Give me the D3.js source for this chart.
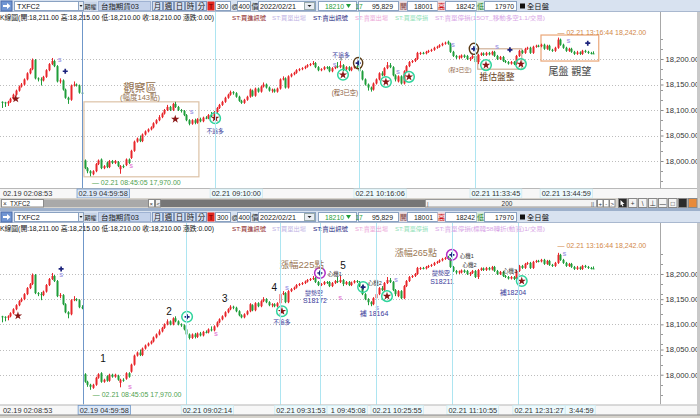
<!DOCTYPE html>
<html><head><meta charset="utf-8">
<script src="https://cdn.jsdelivr.net/npm/d3@7"></script>
<style>body{margin:0;background:#fff;}svg{display:block;}</style>
</head><body><svg id="c" width="700" height="418"></svg>
<script>
// ---------------- DATA ----------------
const opens = [
18116,18115,18113,18116,18122,18130,18138,18146,18150,18160,
18172,18180,18198,18162,18160,18158,18165,18178,18190,18196,
18186,18156,18158,18140,18124,18120,18148,18150,18148,18134,
18001,17986,17980,17974,17980,17994,18003,17986,17997,17988,
18000,17996,17998,17984,17990,17992,18003,18006,18020,18038,
18044,18039,18052,18058,18062,18066,18074,18080,18086,18093,
18100,18106,18100,18112,18106,18100,18098,18090,18080,18073,
18080,18075,18082,18078,18085,18084,18090,18088,18096,18104,
18110,18116,18124,18130,18135,18133,18126,18118,18114,18120,
18126,18138,18128,18142,18136,18146,18150,18144,18138,18140,
18136,18142,18160,18162,18144,18166,18170,18173,18178,18180,
18182,18185,18188,18190,18192,18184,18178,18180,18184,18184,
18176,18182,18186,18184,18188,18180,18184,18178,18183,18186,
18182,18176,18160,18150,18144,18140,18152,18160,18172,18168,
18182,18188,18184,18168,18156,18166,18152,18176,18186,18194,
18196,18200,18210,18212,18211,18214,18216,18218,18222,18224,
18227,18230,18234,18230,18214,18206,18203,18203,18207,18206,
18200,18202,18206,18194,18208,18211,18208,18212,18209,18214,
18206,18200,18204,18196,18194,18191,18194,18190,18206,18216,
18212,18220,18222,18212,18224,18226,18225,18228,18220,18226,
18218,18216,18222,18238,18228,18222,18216,18220,18214,18210,
18213,18210,18216,18214,18212,18211];
const highs = [
18117,18116,18118,18124,18132,18140,18148,18153,18162,18174,
18182,18201,18200,18164,18164,18167,18180,18192,18202,18198,
18188,18162,18160,18142,18126,18150,18156,18152,18150,18138,
18003,17988,17982,17982,17996,18003,18005,17992,17999,18002,
18002,18002,18000,17992,17993,18005,18005,18022,18040,18046,
18050,18054,18060,18064,18068,18076,18082,18090,18095,18102,
18110,18108,18114,18116,18108,18102,18100,18092,18082,18082,
18083,18084,18085,18087,18088,18092,18096,18098,18106,18112,
18118,18126,18132,18138,18137,18135,18128,18120,18122,18128,
18142,18140,18144,18144,18148,18154,18152,18146,18142,18142,
18144,18162,18166,18164,18168,18172,18175,18180,18182,18184,
18187,18190,18192,18196,18194,18186,18182,18186,18186,18186,
18184,18188,18194,18196,18190,18186,18186,18185,18188,18188,
18186,18178,18162,18152,18146,18154,18162,18174,18176,18184,
18194,18192,18186,18170,18168,18168,18178,18188,18196,18198,
18202,18214,18214,18214,18216,18218,18220,18224,18226,18229,
18232,18234,18236,18232,18216,18208,18207,18209,18209,18208,
18204,18208,18208,18210,18213,18213,18214,18214,18216,18216,
18208,18206,18206,18198,18196,18196,18196,18208,18218,18218,
18222,18224,18224,18226,18228,18228,18230,18230,18228,18228,
18220,18224,18242,18240,18230,18224,18222,18222,18216,18216,
18215,18218,18218,18216,18214,18215];
const lows = [
18104,18106,18108,18114,18120,18128,18136,18144,18148,18158,
18170,18178,18160,18156,18148,18156,18163,18176,18188,18184,
18154,18152,18138,18122,18112,18118,18146,18146,18132,18130,
17984,17976,17970,17972,17978,17992,17984,17984,17986,17986,
17994,17994,17988,17975,17986,17990,17994,18004,18018,18036,
18037,18037,18050,18056,18060,18064,18072,18078,18084,18091,
18098,18098,18098,18104,18098,18095,18088,18078,18070,18071,
18072,18073,18076,18076,18082,18082,18086,18086,18094,18102,
18108,18114,18122,18128,18130,18124,18116,18112,18112,18118,
18124,18126,18126,18134,18134,18144,18142,18136,18134,18134,
18134,18140,18158,18142,18142,18164,18168,18171,18176,18178,
18180,18183,18186,18188,18182,18176,18176,18178,18180,18174,
18174,18180,18182,18182,18176,18178,18176,18176,18181,18182,
18174,18158,18148,18138,18136,18138,18150,18158,18166,18166,
18180,18182,18166,18156,18154,18150,18150,18174,18184,18192,
18194,18198,18208,18209,18209,18212,18214,18216,18220,18222,
18225,18228,18228,18212,18204,18200,18200,18201,18202,18198,
18196,18200,18192,18190,18206,18206,18206,18207,18207,18204,
18198,18198,18194,18192,18189,18189,18188,18188,18204,18210,
18210,18218,18210,18210,18222,18223,18223,18218,18218,18216,
18214,18214,18220,18226,18220,18214,18214,18212,18208,18208,
18208,18208,18212,18210,18209,18210];
const closes = [
18115,18113,18116,18122,18130,18138,18146,18150,18160,18172,
18180,18198,18162,18160,18158,18165,18178,18190,18196,18186,
18156,18158,18140,18124,18120,18148,18150,18148,18134,18133,
17986,17980,17976,17980,17994,18001,17986,17990,17988,18000,
17996,18000,17990,17990,17988,18003,17996,18020,18038,18044,
18039,18052,18058,18062,18066,18074,18080,18086,18093,18100,
18106,18100,18112,18106,18100,18098,18090,18080,18073,18080,
18075,18082,18078,18085,18084,18090,18088,18096,18104,18110,
18116,18124,18130,18135,18133,18126,18118,18114,18120,18126,
18140,18128,18142,18136,18146,18150,18144,18138,18140,18136,
18142,18160,18162,18144,18166,18170,18173,18178,18180,18182,
18185,18188,18190,18192,18184,18178,18180,18184,18182,18176,
18182,18186,18184,18188,18180,18184,18178,18183,18186,18184,
18176,18160,18150,18144,18140,18152,18160,18172,18168,18182,
18188,18184,18168,18160,18166,18152,18176,18186,18194,18196,
18200,18212,18212,18211,18214,18216,18218,18222,18224,18227,
18230,18232,18230,18214,18206,18203,18205,18207,18204,18200,
18202,18206,18194,18208,18211,18208,18212,18209,18214,18206,
18200,18204,18196,18194,18191,18194,18190,18206,18216,18212,
18220,18222,18212,18224,18226,18225,18228,18220,18226,18218,
18216,18222,18238,18228,18222,18216,18220,18214,18210,18213,
18210,18216,18214,18212,18211,18210];

const priceTicks = [18000, 18050, 18100, 18150, 18200];

const topTimeLabels = ['02.19 02:08:53','02.19 04:59:58','02.21 09:10:00','02.21 10:16:06','02.21 11:33:45','02.21 13:44:59'];
const topTimeIdx    = [0, 29.1, 77.5, 129.8, 172, 197.5];
const topTimeKind   = [0, 2, 1, 1, 1, 0];
const botTimeLabels = ['02.19 02:08:53','02.19 04:59:58','02.21 09:02:14','02.21 09:31:53','02.21 09:45:08','02.21 10:25:55','02.21 11:10:55','02.21 12:31:27','02.21 13:44:59'];
const botTimeIdx    = [0, 29.5, 67, 101, 115.6, 136, 163.6, 187.6, 198.5];
const botTimeKind   = [0, 2, 1, 1, 1, 1, 1, 1, 0];

// markers: [index, price, type]
const topMarkers = [
 [5,18122,'pent'],[21,18200,'sl'],[23,18176,'dot'],[47,17991,'sp'],[63,18082,'pent'],[69,18098,'sl'],
 [77.5,18084,'cpent'],[121,18190,'sl'],[124,18169,'cpent'],[129.5,18192,'bdot'],[139.6,18155,'cpent'],
 [144,18176,'sl'],[148,18165,'cpent'],[164,18229,'sl'],[171.6,18220,'bdot'],[176,18188,'cpent'],
 [180,18224,'sl'],[184.7,18218,'dot'],[188.7,18190,'cpent'],[206,18237,'sl'],[213,18231,'dot']];
const botMarkers = [
 [5.8,18117,'pent'],[21.5,18210,'dot'],[21.5,18198,'sl'],[46.5,17977,'sp'],[67.3,18115,'cdot'],
 [77.8,18081,'sp'],[101.8,18126,'cpent'],[103.6,18174,'sl'],[115.6,18202,'mdot'],[123,18154,'sp'],
 [131.3,18174,'cdot'],[136.4,18134,'sl'],[140,18156,'cpent'],[143.3,18190,'sl'],[163.6,18238,'mdot'],
 [189,18186,'cpent'],[204.5,18240,'sl']];

// notes: [text, index, price, size, color, anchor]
const topNotes = [
 ['觀察區',50.2,18144,11,'#94714e','middle'],
 ['(幅度143點)',50.2,18125,7.5,'#94714e','middle'],
 ['不追多',77.5,18059,5.8,'#3b3b9b','middle'],
 ['不追多',123.3,18207,5.8,'#3b3b9b','middle'],
 ['(程3已空)',124.7,18134,6.3,'#8b6040','middle'],
 ['(程3已空)',166.5,18178,5.5,'#8b6040','middle'],
 ['推估盤整',180,18164,8.8,'#6a4526','middle'],
 ['尾盤 觀望',206.5,18175,10,'#444444','middle'],
 ['— 02.21 13:16:44  18,242.00',202,18251,7,'#d2884a','start'],
 ['— 02.21 08:45:05  17,970.00',32.7,17957,7,'#4f9f4f','start']];
const botNotes = [
 ['1',36.7,18033,10,'#111111','middle'],['2',60.7,18125,10,'#111111','middle'],
 ['3',81,18152,10,'#111111','middle'],['4',99,18174,10,'#111111','middle'],['5',124,18216,10,'#111111','middle'],
 ['不追多',101.8,18105,5.8,'#3b3b9b','middle'],
 ['漲幅225點',109,18218,9.5,'#9a7754','middle'],
 ['心機1',121,18200,5.5,'#333333','middle'],
 ['變勢空',113.5,18162,6,'#3b3b9b','middle'],['S18172',113.8,18148,7,'#3b3b9b','middle'],
 ['心機2',135.6,18182,5.5,'#333333','middle'],['補 18164',135.3,18121,7,'#3b3b9b','middle'],
 ['漲幅265點',150.5,18242,9,'#9a7754','middle'],['心機1',169,18236,5.5,'#333333','middle'],
 ['變勢空',159.6,18202,6,'#3b3b9b','middle'],['S18211',160,18186,7,'#3b3b9b','middle'],
 ['心機2',170,18218,5.5,'#333333','middle'],['心機3',184.7,18206,5.5,'#333333','middle'],
 ['補18204',185.8,18164,7,'#3b3b9b','middle'],
 ['— 02.21 13:16:44  18,242.00',202,18257,7,'#d2884a','start'],
 ['— 02.21 08:45:05  17,970.00',33,17960,7,'#4f9f4f','start']];

// boxes: [i0, i1, p0, p1, color]
const topBoxes = [[29.8,71.6,18116,17969,'#dcc2a6'],[173,189,18220,18180,'#cfae96'],[196,217,18247,18196,'#eaa678']];

const stLabelsTop = ['ST:買進訊號','ST:買單出場','ST:賣出訊號','ST:賣單出場','ST:買單停損','ST:賣單停損(15OT_移動多空1.1/交易)'];
const stLabelsBot = ['ST:買進訊號','ST:買單出場','ST:賣出訊號','ST:賣單出場','ST:買單停損','ST:賣單停損(標韓58轉折(動寬)1/交易)'];
const headerText = 'K線圖(開:18,211.00 高:18,215.00 低:18,210.00 收:18,210.00 漲跌:0.00)';

// ---------------- DRAW ----------------
const FONT = '"Liberation Sans","Noto Sans CJK TC",sans-serif';
const svg = d3.select('#c').attr('font-family', FONT);
svg.append('rect').attr('width',700).attr('height',418).attr('fill','#ffffff');
const RED = '#e8262b', GREEN = '#1f9e3a';
const xScale = d3.scaleLinear().domain([0, closes.length - 1]).range([2, 593.25]);

function txt(g, x, y, s, size, color, opt) {
  opt = opt || {};
  const t = g.append('text').attr('x', x).attr('y', y).text(s)
    .attr('font-size', size).attr('fill', color)
    .attr('text-anchor', opt.anchor || 'start');
  if (opt.len) t.attr('textLength', opt.len).attr('lengthAdjust', 'spacingAndGlyphs');
  if (opt.weight) t.attr('font-weight', opt.weight);
  if (opt.mid) t.attr('dominant-baseline', 'central');
  return t;
}
function measure(s, size) {
  const t = svg.append('text').attr('font-size', size).text(s);
  const w = t.node().getComputedTextLength();
  t.remove();
  return w;
}

function drawToolbar(y0) {
  const g = svg.append('g').attr('transform', `translate(0,${y0})`);
  g.append('rect').attr('width', 700).attr('height', 12).attr('fill', '#d8e2f0');
  g.append('line').attr('x1',0).attr('x2',700).attr('y1',11.5).attr('y2',11.5).attr('stroke','#a9b8cf');
  g.append('rect').attr('x',1).attr('y',1).attr('width',11).attr('height',10).attr('fill','#7095d2').attr('stroke','#4a6aa8');
  g.append('path').attr('d','M3,5 h4 v-2 l3.5,3 -3.5,3 v-2 h-4z').attr('fill','#fff');
  g.append('rect').attr('x',14.5).attr('y',1.5).attr('width',64).attr('height',9).attr('fill','#fff').attr('stroke','#8aa2c2');
  txt(g, 17, 9, 'TXFC2', 7.2, '#111');
  g.append('rect').attr('x',78.5).attr('y',1.5).attr('width',5).attr('height',9).attr('fill','#e8ecf2').attr('stroke','#8aa2c2');
  g.append('path').attr('d','M79.5,5 h3 l-1.5,2z').attr('fill','#222');
  g.append('rect').attr('x',84).attr('y',1.5).attr('width',13).attr('height',9).attr('fill','#c9d5e8');
  txt(g, 84.5, 9, '期權', 6.2, '#333', {len: 12});
  g.append('rect').attr('x',98.5).attr('y',1.5).attr('width',52).attr('height',9).attr('fill','#c3d1ea').attr('stroke','#9fb2d2');
  txt(g, 101, 9, '台指期貨03', 7.2, '#222', {len: 38});
  ['月','週','日','時','分'].forEach((c, i) => {
    const x = 152 + i * 11;
    g.append('rect').attr('x',x+0.5).attr('y',1.5).attr('width',10).attr('height',9).attr('fill','#d3def0').attr('stroke','#7f97bd');
    txt(g, x + 5.5, 9, c, 7.5, '#222', {anchor: 'middle'});
  });
  g.append('rect').attr('x',207.5).attr('y',1.5).attr('width',7).attr('height',9).attr('fill','#e3261e');
  txt(g, 211, 9, 'T', 7, '#7a0000', {anchor: 'middle'});
  g.append('rect').attr('x',215.5).attr('y',1.5).attr('width',15).attr('height',9).attr('fill','#fff').attr('stroke','#8aa2c2');
  txt(g, 217, 9, '300', 6.8, '#222');
  txt(g, 231.5, 9, '@', 6.8, '#222');
  g.append('rect').attr('x',237.5).attr('y',1.5).attr('width',13).attr('height',9).attr('fill','#fff').attr('stroke','#8aa2c2');
  txt(g, 238.5, 9, '400', 6.8, '#222');
  txt(g, 251.5, 9, '價', 7, '#222');
  g.append('rect').attr('x',258.5).attr('y',1.5).attr('width',57).attr('height',9).attr('fill','#fff').attr('stroke','#8aa2c2');
  txt(g, 260, 9, '2022/02/21', 6.8, '#222', {len: 36});
  g.append('rect').attr('x',304.5).attr('y',2.5).attr('width',10).attr('height',7).attr('fill','#e8ecf2').attr('stroke','#9aa');
  g.append('path').attr('d','M307.5,5 h4 l-2,2z').attr('fill','#222');
  g.append('rect').attr('x',318.5).attr('y',1.5).attr('width',38).attr('height',9).attr('fill','#fff').attr('stroke','#8aa2c2');
  txt(g, 325, 9, '18210', 6.8, '#1f9e3a', {len: 19});
  g.append('path').attr('d','M346,4 h5 l-2.5,4z').attr('fill','#1f9e3a');
  g.append('rect').attr('x',358.5).attr('y',1.5).attr('width',40).attr('height',9).attr('fill','#fff').attr('stroke','#8aa2c2');
  txt(g, 355.5, 9, '17', 6.5, '#1f9e3a');
  txt(g, 372, 9, '95,829', 6.5, '#222', {len: 21});
  g.append('rect').attr('x',399.5).attr('y',1.5).attr('width',8).attr('height',9).attr('fill','#e9d3d6');
  txt(g, 400, 9, '開', 7, '#7a3a40');
  g.append('rect').attr('x',407.5).attr('y',1.5).attr('width',30).attr('height',9).attr('fill','#fff').attr('stroke','#8aa2c2');
  txt(g, 414, 9, '18001', 6.5, '#222', {len: 19});
  g.append('rect').attr('x',437.5).attr('y',1.5).attr('width',8).attr('height',9).attr('fill','#f4d4d4');
  txt(g, 438, 9, '高', 7, '#cc1111');
  g.append('rect').attr('x',445.5).attr('y',1.5).attr('width',31).attr('height',9).attr('fill','#fff').attr('stroke','#8aa2c2');
  txt(g, 456, 9, '18242', 6.5, '#222', {len: 19});
  g.append('rect').attr('x',476.5).attr('y',1.5).attr('width',8).attr('height',9).attr('fill','#d6ecd8');
  txt(g, 477, 9, '低', 7, '#1b7a1b');
  g.append('rect').attr('x',484.5).attr('y',1.5).attr('width',32).attr('height',9).attr('fill','#fff').attr('stroke','#8aa2c2');
  txt(g, 495, 9, '17970', 6.5, '#222', {len: 19});
  g.append('rect').attr('x',520).attr('y',3.5).attr('width',5).attr('height',5).attr('fill','#111');
  txt(g, 527, 9, '全日盤', 7.2, '#111', {len: 22});
}

function drawMarker(g, x, y, type) {
  if (type === 'pent' || type === 'cpent') {
    g.append('path').attr('d', d3.symbol(d3.symbolStar, 22)()).attr('transform', `translate(${x},${y})`).attr('fill', '#8a1616');
  }
  if (type === 'dot' || type === 'bdot' || type === 'cdot' || type === 'mdot') {
    g.append('path').attr('d', d3.symbol(d3.symbolCross, 14)()).attr('transform', `translate(${x},${y})`).attr('fill', '#1c237c');
  }
  if (type === 'sl' || type === 'sp') {
    txt(g, x, y, 's', 7, type === 'sl' ? '#a7a0e6' : '#e48ad8', {anchor: 'middle', mid: true, weight: 'bold'});
  }
  if (type === 'cpent' || type === 'cdot') {
    g.append('circle').attr('cx', x).attr('cy', y).attr('r', 5.3).attr('fill', 'none').attr('stroke', '#2fd49c').attr('stroke-width', 1.5);
  }
  if (type === 'bdot') {
    g.append('ellipse').attr('cx', x).attr('cy', y).attr('rx', 4.6).attr('ry', 5.6).attr('fill', 'none').attr('stroke', '#5a3a14').attr('stroke-width', 1.4);
  }
  if (type === 'mdot') {
    g.append('circle').attr('cx', x).attr('cy', y).attr('r', 5.3).attr('fill', 'none').attr('stroke', '#b22cc4').attr('stroke-width', 1.5);
  }
}

function drawPanel(P) {
  const y = d3.scaleLinear().domain([17950, 18250]).range(P.yRange);
  const g = svg.append('g');
  const clipId = 'clip' + P.id;
  svg.append('clipPath').attr('id', clipId).append('rect')
    .attr('x', 0).attr('y', P.top).attr('width', 660).attr('height', P.bottom - P.top);
  g.append('rect').attr('x', 0).attr('y', P.top).attr('width', 700).attr('height', P.bottom - P.top).attr('fill', '#fff');
  const pg = g.append('g').attr('clip-path', `url(#${clipId})`);

  pg.selectAll('line.hg').data(priceTicks).join('line').attr('class', 'hg')
    .attr('x1', 0).attr('x2', 660)
    .attr('y1', d => Math.round(y(d)) + 0.5).attr('y2', d => Math.round(y(d)) + 0.5)
    .attr('stroke', '#bdbdbd').attr('stroke-dasharray', '1,2');

  P.timeIdx.forEach((k, i) => {
    if (!P.timeKind[i]) return;
    const x = Math.round(xScale(k)) + 0.5;
    g.append('line').attr('x1', x).attr('x2', x).attr('y1', P.top).attr('y2', P.timeY - 4)
      .attr('stroke', P.timeKind[i] === 2 ? '#6f97c9' : '#ade5f1').attr('stroke-width', 1);
  });

  (P.boxes || []).forEach(b => {
    pg.append('rect').attr('x', xScale(b[0])).attr('y', y(b[2]))
      .attr('width', xScale(b[1]) - xScale(b[0])).attr('height', y(b[3]) - y(b[2]))
      .attr('fill', 'none').attr('stroke', b[4]).attr('stroke-width', 1.2);
  });

  const idx = d3.range(closes.length);
  const col = i => closes[i] >= opens[i] ? RED : GREEN;
  pg.selectAll('line.wick').data(idx).join('line').attr('class', 'wick')
    .attr('x1', i => Math.round(xScale(i)) + 0.5).attr('x2', i => Math.round(xScale(i)) + 0.5)
    .attr('y1', i => y(highs[i])).attr('y2', i => y(lows[i]))
    .attr('stroke', col).attr('stroke-width', 1);
  pg.selectAll('rect.body').data(idx).join('rect').attr('class', 'body')
    .attr('x', i => Math.round(xScale(i)) - 0.5).attr('width', 2)
    .attr('y', i => y(Math.max(opens[i], closes[i])))
    .attr('height', i => Math.max(1, Math.abs(y(opens[i]) - y(closes[i]))))
    .attr('fill', col);

  P.markers.forEach(m => drawMarker(pg, xScale(m[0]), y(m[1]), m[2]));
  P.notes.forEach(n => txt(pg, xScale(n[1]), y(n[2]), n[0], n[3], n[4], {anchor: n[5], mid: true}));
  if (P.arrow) {
    pg.append('line').attr('x1', xScale(P.arrow[0])).attr('x2', xScale(P.arrow[0]))
      .attr('y1', y(P.arrow[1])).attr('y2', y(P.arrow[2])).attr('stroke', '#555');
  }

  const ax = g.append('g').attr('transform', 'translate(660.5,0)')
    .call(d3.axisRight(y).tickValues(priceTicks).tickFormat(d3.format(',.2f')).tickSize(3).tickPadding(2));
  ax.select('.domain').remove();
  ax.selectAll('line').attr('stroke', '#888');
  ax.selectAll('text').attr('font-size', 7.6).attr('fill', '#333').attr('font-family', FONT);
  const minor = y.ticks(12).filter(v => priceTicks.indexOf(v) < 0);
  g.selectAll('line.minor' + P.id).data(minor).join('line')
    .attr('x1', 660.5).attr('x2', 663).attr('y1', d => Math.round(y(d)) + 0.5).attr('y2', d => Math.round(y(d)) + 0.5)
    .attr('stroke', '#999');
  g.append('line').attr('x1', 660.5).attr('x2', 660.5).attr('y1', P.top).attr('y2', P.bottom).attr('stroke', '#a8a8a8');
  g.append('rect').attr('x', 697).attr('y', P.top).attr('width', 3).attr('height', P.bottom - P.top + 12).attr('fill', '#c9c9c9');

  // time row
  g.append('rect').attr('x', 0).attr('y', P.bottom).attr('width', 697).attr('height', 10).attr('fill', '#f7f7f7');
  g.append('line').attr('x1', 0).attr('x2', 697).attr('y1', P.bottom + 0.5).attr('y2', P.bottom + 0.5).attr('stroke', '#b8b8b8');
  let prevEnd = -10;
  P.timeLabels.forEach((lab, i) => {
    const kind = P.timeKind[i];
    const x0 = (i === 0) ? 3 : xScale(P.timeIdx[i]) - 3.5;
    const fullW = measure(lab, 7.4);
    let shown = lab, sx = x0;
    if (x0 - 1.5 < prevEnd) {
      let n = 0;
      while (n < lab.length && x0 + measure(lab.slice(0, n), 7.4) < prevEnd + 1) n++;
      shown = lab.slice(n);
      sx = x0 + measure(lab.slice(0, n), 7.4);
    }
    if (i !== 0) {
      const bx = Math.max(x0 - 1.5, prevEnd);
      g.append('rect').attr('x', bx).attr('y', P.timeY - 4.5).attr('width', x0 + fullW + 1.5 - bx).attr('height', 9)
        .attr('fill', kind === 2 ? '#dce8f8' : '#eefafd')
        .attr('stroke', kind === 2 ? '#6f97c9' : '#cdebf2').attr('stroke-width', 0.8);
    }
    txt(g, sx, P.timeY, shown, 7.4, '#333', {mid: true});
    prevEnd = x0 + fullW + 1.5;
  });

  txt(g, 0, P.top + 8.3, headerText, 6.9, '#111', {len: 214});
  const stX = [232, 272, 313, 355, 395, 435];
  const stW = [34, 34, 35, 33, 33, 110];
  const stC = ['#8a1a1a', '#bfb4e4', '#1c237c', '#eca6d8', '#8fe0b8', '#d8a6e6'];
  P.st.forEach((s, i) => txt(g, stX[i], P.top + 8.3, s, 6.2, stC[i], {len: stW[i]}));
}

drawToolbar(0);
drawPanel({id: 't', top: 12, bottom: 188, yRange: [186.5, 33.5], timeY: 193.5,
  timeLabels: topTimeLabels, timeIdx: topTimeIdx, timeKind: topTimeKind,
  markers: topMarkers, notes: topNotes, boxes: topBoxes, arrow: [123.3, 18203, 18197], st: stLabelsTop});

(function () {
  const g = svg.append('g').attr('transform', 'translate(0,198)');
  g.append('rect').attr('width', 700).attr('height', 10).attr('fill', '#d6d3cc');
  g.append('rect').attr('x', 1.5).attr('y', 1.5).attr('width', 42).attr('height', 7.5).attr('fill', '#fff').attr('stroke', '#8a8a8a');
  txt(g, 3, 7.8, '×', 6.5, '#333'); txt(g, 10, 7.8, 'TXFC2', 6.3, '#222');
  g.append('rect').attr('x', 44).attr('y', 1.5).attr('width', 104).attr('height', 7.5).attr('fill', '#a9a9a9');
  g.append('rect').attr('x', 148.5).attr('y', 1.5).attr('width', 6).attr('height', 7.5).attr('fill', '#fff').attr('stroke', '#888');
  txt(g, 149.5, 7.8, '×', 6, '#333');
  g.append('rect').attr('x', 155.5).attr('y', 1.5).attr('width', 5).attr('height', 7.5).attr('fill', '#eee').attr('stroke', '#888');
  txt(g, 156.5, 7.8, '<', 6, '#333');
  g.append('rect').attr('x', 161).attr('y', 1.5).attr('width', 264).attr('height', 7.5).attr('fill', '#767676');
  g.append('rect').attr('x', 425.5).attr('y', 1.5).attr('width', 171).attr('height', 7.5).attr('fill', '#f3f3f3').attr('stroke', '#999');
  txt(g, 427, 7.8, '|', 6, '#555');
  txt(g, 507, 7.8, '200', 6.5, '#333', {anchor: 'middle'});
  txt(g, 591, 7.8, '||', 6, '#555');
  ['+', '-', '>'].forEach((c, i) => {
    g.append('rect').attr('x', 597.5 + i * 6).attr('y', 1.5).attr('width', 5.5).attr('height', 7.5).attr('fill', '#fff').attr('stroke', '#888');
    txt(g, 600.2 + i * 6, 7.8, c, 6, '#333', {anchor: 'middle'});
  });
  const icons = ['#2a2a2a', '#f4f4f4', '#f4f4f4', '#f4f4f4', '#f4f4f4', '#f4f4f4', '#2a2a2a', '#e88a3a'];
  icons.forEach((c, i) => {
    g.append('rect').attr('x', 618.5 + i * 10).attr('y', 0.5).attr('width', 8.5).attr('height', 9).attr('fill', c).attr('stroke', '#888');
  });
  ['', '+', '\\', '⊥', '—', '□', '', ''].forEach((c, i) => {
    if (c) txt(g, 622.7 + i * 10, 7.8, c, 6.5, '#333', {anchor: 'middle'});
  });
  g.append('path').attr('d', 'M620.5,2 l4,4 h-2 l1,2 -1,.5 -1,-2 -1,1z').attr('fill', '#fff');
})();
svg.append('rect').attr('x', 0).attr('y', 208).attr('width', 700).attr('height', 3).attr('fill', '#9db0cb');

drawToolbar(211);
drawPanel({id: 'b', top: 223, bottom: 404.5, yRange: [399.9, 248.8], timeY: 410,
  timeLabels: botTimeLabels, timeIdx: botTimeIdx, timeKind: botTimeKind,
  markers: botMarkers, notes: botNotes, boxes: [], st: stLabelsBot});
svg.append('rect').attr('x', 0).attr('y', 415).attr('width', 700).attr('height', 3).attr('fill', '#d6d3cc');
svg.append('line').attr('x1', 0).attr('x2', 700).attr('y1', 415).attr('y2', 415).attr('stroke', '#888');
</script></body></html>
